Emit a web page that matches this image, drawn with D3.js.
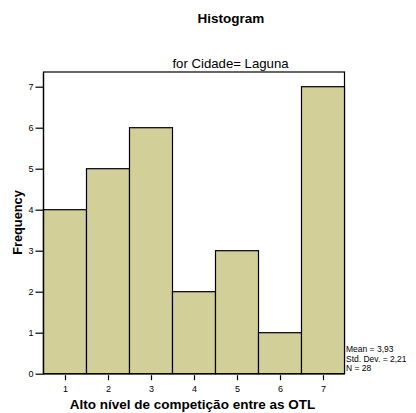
<!DOCTYPE html>
<html><head><meta charset="utf-8">
<script src="https://cdn.jsdelivr.net/npm/d3@7"></script>
<style>body{margin:0;background:#fff}svg{display:block;font-family:"Liberation Sans",Arial,Helvetica,sans-serif}</style>
</head><body>
<script>
const categories = [1, 2, 3, 4, 5, 6, 7];
const frequencies = [4, 5, 6, 2, 3, 1, 7];
const yTicks = [0, 1, 2, 3, 4, 5, 6, 7];
const statsLines = ["Mean = 3,93", "Std. Dev. = 2,21", "N = 28"];
const title = "Histogram";
const subtitle = "for Cidade= Laguna";
const xLabel = "Alto nível de competição entre as OTL";
const yLabel = "Frequency";

(function () {
const W = 416, H = 413;
const svg = d3.select("body").append("svg").attr("width", W).attr("height", H);
const pL = 43.5, pR = 344.5, pT = 72, pB = 373.7;
const x = d3.scaleLinear().domain([0.5, 7.5]).range([pL, pR]);
const y = d3.scaleLinear().domain([0, 7]).range([pB, 86.7]);

// frame
svg.append("rect").attr("x", pL).attr("y", pT).attr("width", pR - pL).attr("height", pB - pT)
  .attr("fill", "#fff").attr("stroke", "#000").attr("stroke-width", 1.2);

// bars
svg.selectAll("rect.bar").data(categories).enter().append("rect").attr("class", "bar")
  .attr("x", d => x(d - 0.5)).attr("width", d => x(d + 0.5) - x(d - 0.5))
  .attr("y", (d, i) => y(frequencies[i])).attr("height", (d, i) => y(0) - y(frequencies[i]))
  .attr("fill", "#d3cf98").attr("stroke", "#000").attr("stroke-width", 1.2);

svg.append("line").attr("x1", pL).attr("x2", pL).attr("y1", pT).attr("y2", pB).attr("stroke", "#000").attr("stroke-width", 1.3);
svg.append("line").attr("x1", pL).attr("x2", pR).attr("y1", pB).attr("y2", pB).attr("stroke", "#000").attr("stroke-width", 1.3);

// y axis
const yAxis = d3.axisLeft(y).tickValues(yTicks).tickSize(8).tickPadding(2).tickFormat(d3.format("d"));
const gy = svg.append("g").attr("transform", `translate(${pL},0)`).call(yAxis);
gy.select(".domain").remove();
gy.selectAll(".tick line").attr("stroke", "#000").attr("stroke-width", 1.2);
gy.selectAll(".tick text").attr("font-size", 9).attr("fill", "#000").attr("font-family", "Liberation Sans, Arial, sans-serif");

// x axis
const xAxis = d3.axisBottom(x).tickValues(categories).tickSize(5).tickPadding(5).tickFormat(d3.format("d"));
const gx = svg.append("g").attr("transform", `translate(0,${pB + 1.5})`).call(xAxis);
gx.select(".domain").remove();
gx.selectAll(".tick line").attr("stroke", "#000").attr("stroke-width", 1.2);
gx.selectAll(".tick text").attr("font-size", 9).attr("fill", "#000").attr("font-family", "Liberation Sans, Arial, sans-serif");

// titles
svg.append("text").attr("x", 231).attr("y", 22.5).attr("text-anchor", "middle")
  .attr("font-size", 13.5).attr("font-weight", "bold").text(title);
svg.append("text").attr("x", 230.5).attr("y", 68).attr("text-anchor", "middle")
  .attr("font-size", 13.2).text(subtitle);
svg.append("text").attr("x", 192.5).attr("y", 408.5).attr("text-anchor", "middle")
  .attr("font-size", 13.5).attr("font-weight", "bold").text(xLabel);
svg.append("text").attr("transform", "translate(22,222.5) rotate(-90)").attr("text-anchor", "middle")
  .attr("font-size", 12.8).attr("font-weight", "bold").text(yLabel);

// stats
svg.selectAll("text.stat").data(statsLines).enter().append("text").attr("class", "stat")
  .attr("x", 346).attr("y", (d, i) => 352 + i * 9.7).attr("font-size", 8.5).text(d => d);
})();
</script>
</body></html>
